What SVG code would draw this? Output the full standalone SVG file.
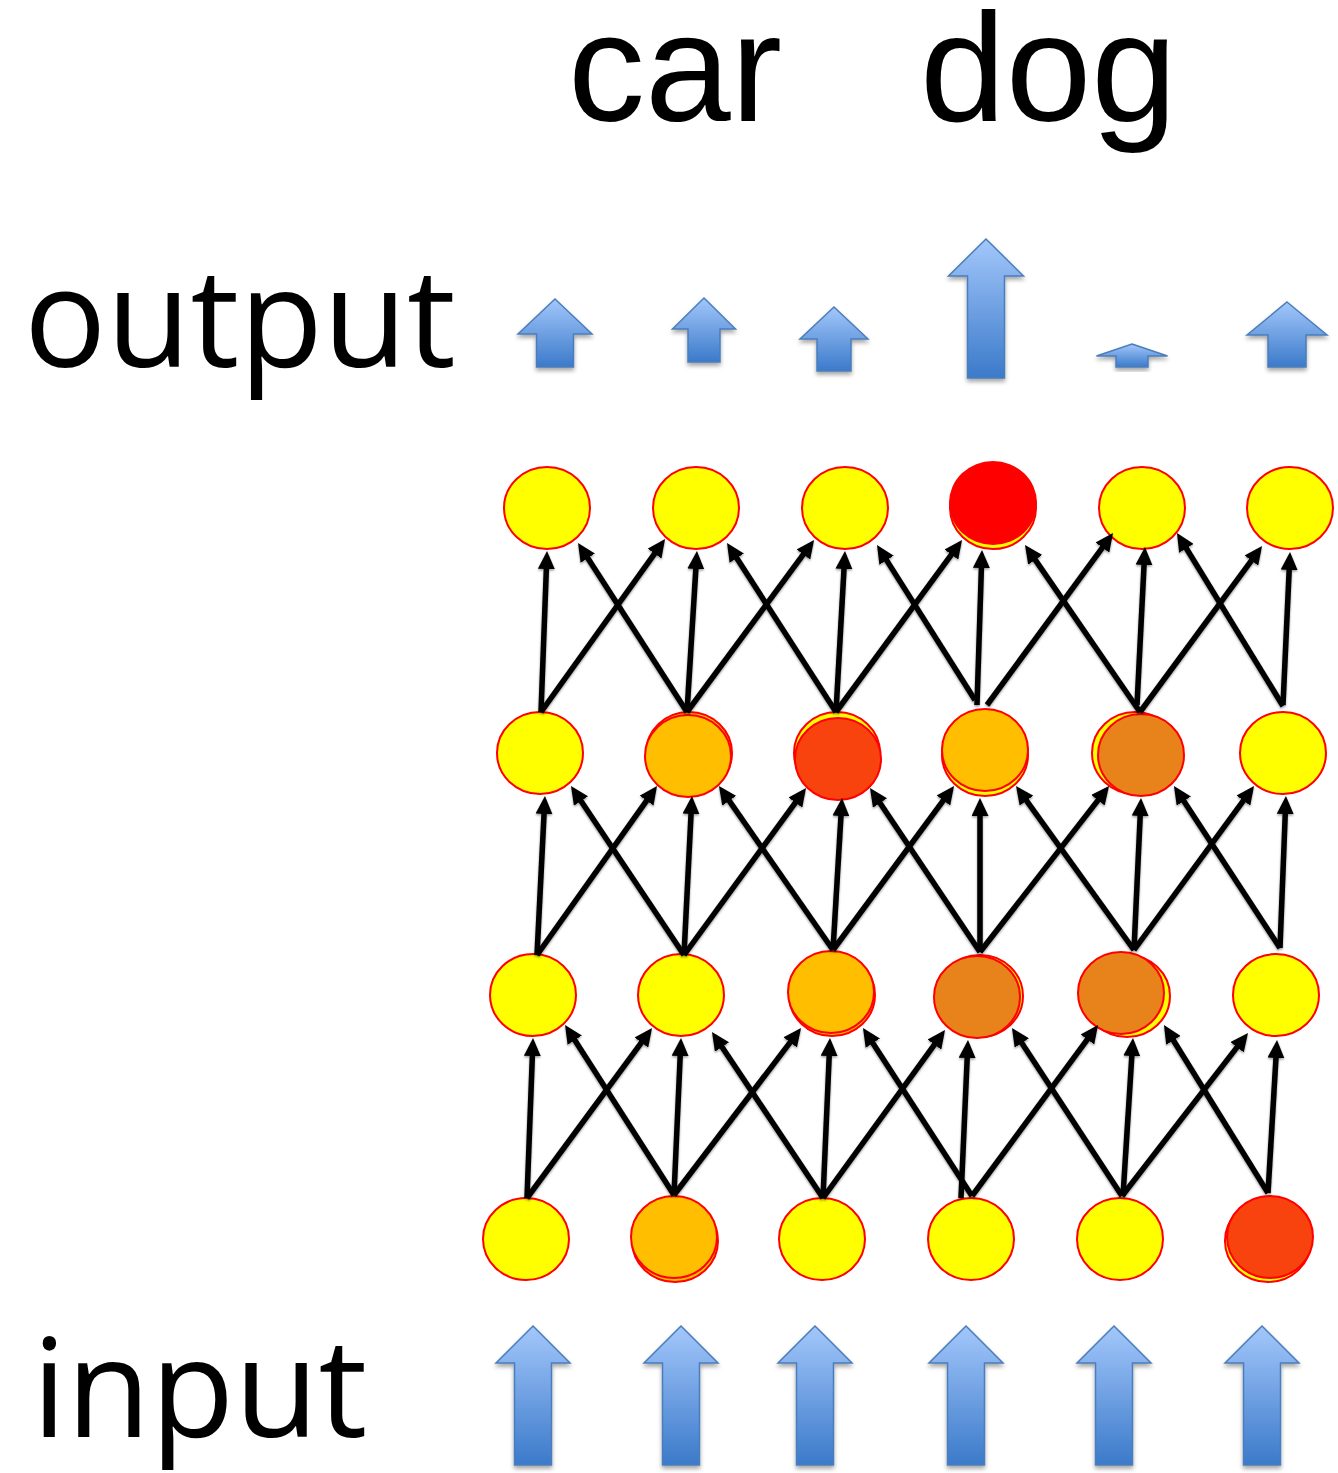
<svg xmlns="http://www.w3.org/2000/svg" width="1338" height="1473" viewBox="0 0 1338 1473">
<style>
.lbl{font-family:"Liberation Sans",Arial,sans-serif;font-size:154px;fill:#000}
.lbl2{font-family:"Open Sans","Liberation Sans",sans-serif;font-size:137px;fill:#000}
.y{fill:#FFFF00;stroke:#FF0000;stroke-width:2}
.am{fill:#FFBF00;stroke:#FF0000;stroke-width:2}
.ro{fill:#F8430E;stroke:#FF0000;stroke-width:2}
.do{fill:#E8821A;stroke:#FF0000;stroke-width:2}
.rd{fill:#FF0000}
.ba{fill:url(#bg);stroke:#4A7EBB;stroke-width:1.5;filter:url(#sh)}
.c{fill:none;stroke:#000;stroke-width:5.5;marker-end:url(#ah)}
</style>
<defs>
<linearGradient id="bg" x1="0" y1="0" x2="0" y2="1">
<stop offset="0" stop-color="#A3C7FB"/>
<stop offset="1" stop-color="#3B7ACA"/>
</linearGradient>
<filter id="sh" x="-20%" y="-20%" width="140%" height="140%">
<feDropShadow dx="0" dy="3" stdDeviation="2" flood-color="#000" flood-opacity="0.35"/>
</filter>
<filter id="lsh" x="-10%" y="-10%" width="120%" height="120%">
<feDropShadow dx="0" dy="1.5" stdDeviation="1.2" flood-color="#000" flood-opacity="0.4"/>
</filter>
<marker id="ah" markerUnits="userSpaceOnUse" markerWidth="18" markerHeight="17" refX="9" refY="8.5" orient="auto">
<path d="M0,0 L18,8.5 L0,17 z" fill="#000"/>
</marker>
</defs>
<rect width="1338" height="1473" fill="#fff"/>
<g id="labels">
<text class="lbl" x="568" y="121">car</text>
<text class="lbl" x="920" y="121">dog</text>
<text class="lbl2" x="24" y="367">output</text>
<text class="lbl2" x="32" y="1437">input</text>
</g>
<g id="output-arrows">
<polygon class="ba" points="555,299 592,334 573.5,334 573.5,367 536.5,367 536.5,334 518,334"/>
<polygon class="ba" points="704,298 735.5,329 720,329 720,362 688,362 688,329 672.5,329"/>
<polygon class="ba" points="834,307 868,339 851,339 851,371 817,371 817,339 800,339"/>
<polygon class="ba" points="986,239 1023.5,276 1004.5,276 1004.5,378 967.5,378 967.5,276 948.5,276"/>
<polygon class="ba" points="1132,344 1167.5,356 1148,356 1148,367 1116,367 1116,356 1096.5,356"/>
<polygon class="ba" points="1287,302 1327,335 1306,335 1306,367 1268,367 1268,335 1247,335"/>
</g>
<g id="input-arrows">
<polygon class="ba" points="533,1326 570,1363 551.5,1363 551.5,1465 514.5,1465 514.5,1363 496,1363"/>
<polygon class="ba" points="681,1326 718,1363 699.5,1363 699.5,1465 662.5,1465 662.5,1363 644,1363"/>
<polygon class="ba" points="815,1326 852,1363 833.5,1363 833.5,1465 796.5,1465 796.5,1363 778,1363"/>
<polygon class="ba" points="966,1326 1003,1363 984.5,1363 984.5,1465 947.5,1465 947.5,1363 929,1363"/>
<polygon class="ba" points="1114,1326 1151,1363 1132.5,1363 1132.5,1465 1095.5,1465 1095.5,1363 1077,1363"/>
<polygon class="ba" points="1262,1326 1299,1363 1280.5,1363 1280.5,1465 1243.5,1465 1243.5,1363 1225,1363"/>
</g>
<g id="n1-1"><ellipse class="y" cx="547" cy="508" rx="43" ry="41"/></g>
<g id="n1-2"><ellipse class="y" cx="696" cy="508" rx="43" ry="41"/></g>
<g id="n1-3"><ellipse class="y" cx="845" cy="508" rx="43" ry="41"/></g>
<g id="n1-4"><ellipse class="y" cx="993" cy="508" rx="43" ry="41"/><ellipse class="rd" cx="993" cy="503" rx="44" ry="42"/></g>
<g id="n1-5"><ellipse class="y" cx="1142" cy="508" rx="43" ry="41"/></g>
<g id="n1-6"><ellipse class="y" cx="1290" cy="508" rx="43" ry="41"/></g>
<g id="n2-1"><ellipse class="y" cx="540" cy="753" rx="43" ry="41"/></g>
<g id="n2-2"><ellipse class="am" cx="689" cy="753" rx="43" ry="41"/><ellipse class="am" cx="688" cy="756" rx="43" ry="41"/></g>
<g id="n2-3"><ellipse class="y" cx="837" cy="753" rx="43" ry="41"/><ellipse class="ro" cx="838" cy="759" rx="43" ry="41"/></g>
<g id="n2-4"><ellipse class="y" cx="985" cy="755" rx="43" ry="41"/><ellipse class="am" cx="985" cy="750" rx="43" ry="41"/></g>
<g id="n2-5"><ellipse class="y" cx="1135" cy="753" rx="43" ry="41"/><ellipse class="do" cx="1141" cy="755" rx="43" ry="41"/></g>
<g id="n2-6"><ellipse class="y" cx="1283" cy="753" rx="43" ry="41"/></g>
<g id="n3-1"><ellipse class="y" cx="533" cy="995" rx="43" ry="41"/></g>
<g id="n3-2"><ellipse class="y" cx="681" cy="995" rx="43" ry="41"/></g>
<g id="n3-3"><ellipse class="am" cx="832" cy="995" rx="43" ry="41"/><ellipse class="am" cx="831" cy="992" rx="43" ry="41"/></g>
<g id="n3-4"><ellipse class="y" cx="980" cy="996" rx="43" ry="41"/><ellipse class="do" cx="977" cy="997" rx="43" ry="41"/></g>
<g id="n3-5"><ellipse class="y" cx="1127" cy="996" rx="43" ry="41"/><ellipse class="do" cx="1121" cy="993" rx="43" ry="41"/></g>
<g id="n3-6"><ellipse class="y" cx="1276" cy="995" rx="43" ry="41"/></g>
<g id="n4-1"><ellipse class="y" cx="526" cy="1239" rx="43" ry="41"/></g>
<g id="n4-2"><ellipse class="am" cx="675" cy="1241" rx="43" ry="41"/><ellipse class="am" cx="674" cy="1237" rx="43" ry="41"/></g>
<g id="n4-3"><ellipse class="y" cx="822" cy="1239" rx="43" ry="41"/></g>
<g id="n4-4"><ellipse class="y" cx="971" cy="1239" rx="43" ry="41"/></g>
<g id="n4-5"><ellipse class="y" cx="1120" cy="1239" rx="43" ry="41"/></g>
<g id="n4-6"><ellipse class="y" cx="1268" cy="1241" rx="43" ry="41"/><ellipse class="ro" cx="1270" cy="1237" rx="43" ry="41"/></g>
<g id="connectors" filter="url(#lsh)">
<path class="c" d="M527,1198 L532.7,1047"/>
<path class="c" d="M674,1195 L680.6,1047"/>
<path class="c" d="M823,1198 L829.6,1047"/>
<path class="c" d="M961,1198 L967.6,1049"/>
<path class="c" d="M1123,1196 L1132.4,1047"/>
<path class="c" d="M1268,1193 L1276.5,1049"/>
<path class="c" d="M527,1198 L646.7,1035.3"/>
<path class="c" d="M674,1195 L795.6,1035.2"/>
<path class="c" d="M823,1198 L939.7,1037.3"/>
<path class="c" d="M972,1196 L1092.7,1032.2"/>
<path class="c" d="M1122,1196 L1242.5,1040.1"/>
<path class="c" d="M674,1195 L569.9,1032.6"/>
<path class="c" d="M823,1198 L717,1039.5"/>
<path class="c" d="M972,1196 L867.9,1035.6"/>
<path class="c" d="M1122,1196 L1016.9,1035.5"/>
<path class="c" d="M1268,1193 L1168.7,1032.7"/>
<path class="c" d="M537,955 L544.5,805"/>
<path class="c" d="M684,955 L691.5,805"/>
<path class="c" d="M833,950 L841.5,807"/>
<path class="c" d="M980,952 L980,807"/>
<path class="c" d="M1134,950 L1140.6,807"/>
<path class="c" d="M1280,948 L1285.6,805"/>
<path class="c" d="M537,955 L651.8,793.3"/>
<path class="c" d="M684,955 L800.7,795.3"/>
<path class="c" d="M833,950 L948.7,793.2"/>
<path class="c" d="M980,952 L1103.5,793.1"/>
<path class="c" d="M1134,950 L1248.7,793.3"/>
<path class="c" d="M684,955 L576,793.5"/>
<path class="c" d="M833,950 L724.1,793.4"/>
<path class="c" d="M980,952 L875,795.5"/>
<path class="c" d="M1134,950 L1021.3,793.3"/>
<path class="c" d="M1280,948 L1178.9,793.5"/>
<path class="c" d="M541,712 L546.7,560"/>
<path class="c" d="M687,712 L696.4,560"/>
<path class="c" d="M836,712 L844.5,560"/>
<path class="c" d="M977,705 L981.7,559"/>
<path class="c" d="M1137,705 L1144.5,556"/>
<path class="c" d="M1283,705 L1289.6,561"/>
<path class="c" d="M541,712 L659.8,546.3"/>
<path class="c" d="M687,712 L808.7,547.2"/>
<path class="c" d="M836,712 L956.7,547.3"/>
<path class="c" d="M987,705 L1107.7,540.3"/>
<path class="c" d="M1140,712 L1256.7,553.3"/>
<path class="c" d="M687,712 L582.9,550.6"/>
<path class="c" d="M836,712 L731.9,550.6"/>
<path class="c" d="M975,700 L881.8,552.6"/>
<path class="c" d="M1140,712 L1030.1,552.4"/>
<path class="c" d="M1283,706 L1181.7,540.7"/>
</g>
</svg>
